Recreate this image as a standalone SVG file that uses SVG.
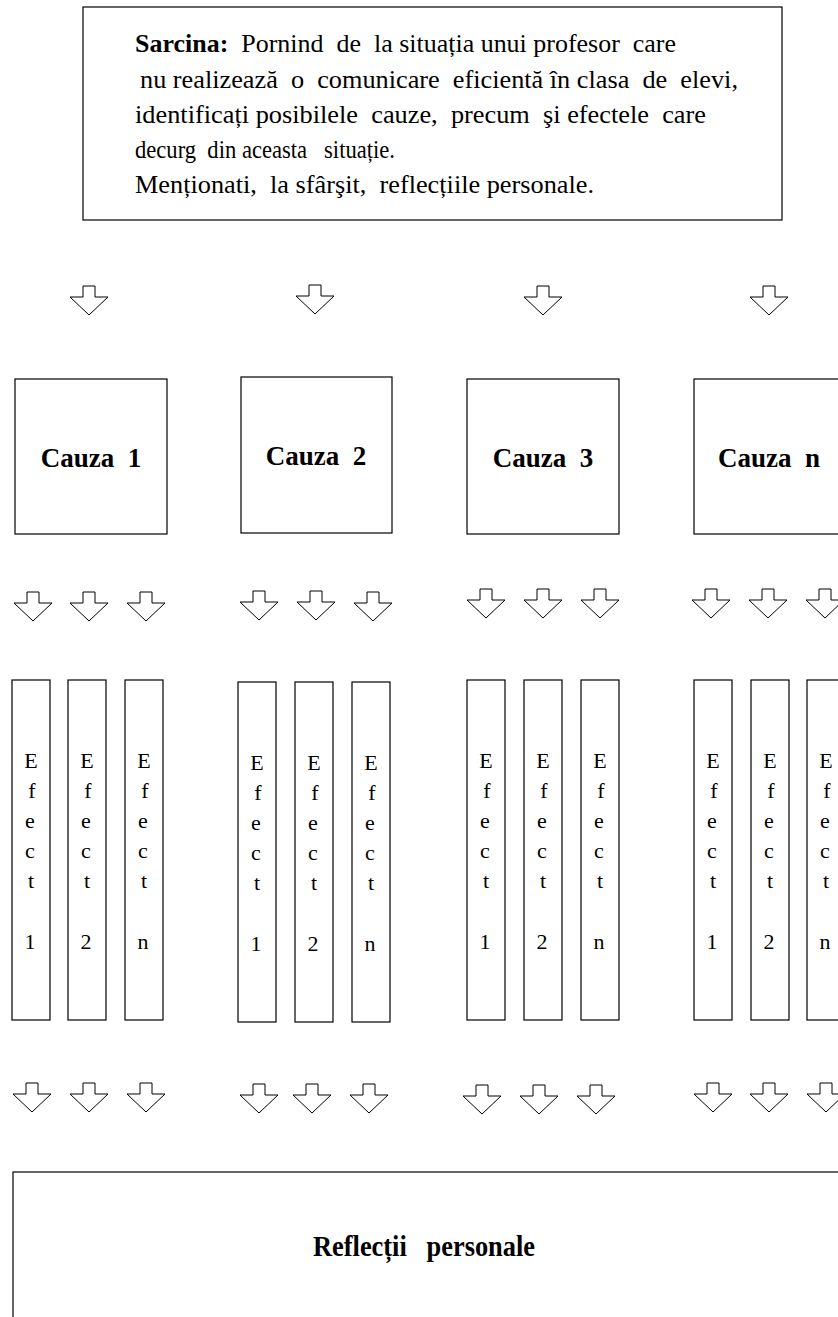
<svg xmlns="http://www.w3.org/2000/svg" xmlns:xlink="http://www.w3.org/1999/xlink" width="838" height="1317" viewBox="0 0 838 1317">
<style>
  .box { fill: #fff; stroke: #000; stroke-width: 1.2; }
  .arr { fill: #fff; stroke: #000; stroke-width: 1; stroke-linejoin: miter; }
  text { font-family: 'Liberation Serif', 'Times New Roman', Times, 'DejaVu Serif', serif; fill: #000; }
  .task { font-size: 26px; }
  .b { font-weight: bold; }
  .cause { font-size: 27px; font-weight: bold; text-anchor: middle; }
  .refl { font-size: 29px; font-weight: bold; }
  .eff { font-size: 22px; text-anchor: middle; }
</style>
<defs>
  <path id="arrow" class="arr" d="M -6,-29 H 6 V -18 H 19 L 0,0 L -19,-18 H -6 Z"/>
</defs>
<rect width="838" height="1317" fill="#fff"/>

<g id="task">
  <rect class="box" x="83" y="7" width="699" height="213"/>
  <text class="task" x="135" y="52" textLength="541" lengthAdjust="spacingAndGlyphs" xml:space="preserve"><tspan class="b">Sarcina:</tspan>  Pornind  de  la situația unui profesor  care</text>
  <text class="task" x="140" y="88" textLength="598" lengthAdjust="spacingAndGlyphs" xml:space="preserve">nu realizează  o  comunicare  eficientă în clasa  de  elevi,</text>
  <text class="task" x="135" y="123" textLength="571" lengthAdjust="spacingAndGlyphs" xml:space="preserve">identificați posibilele  cauze,  precum  şi efectele  care</text>
  <text class="task" x="135" y="158" textLength="260" lengthAdjust="spacingAndGlyphs" xml:space="preserve">decurg  din aceasta   situație.</text>
  <text class="task" x="135" y="193" textLength="459" lengthAdjust="spacingAndGlyphs" xml:space="preserve">Menționati,  la sfârşit,  reflecțiile personale.</text>
</g>

<g id="cauza1">
  <rect class="box" x="15" y="379" width="152" height="155"/>
  <text class="cause" x="91" y="467" xml:space="preserve">Cauza  1</text>
</g>
<g id="cauza2">
  <rect class="box" x="241" y="377" width="151" height="156"/>
  <text class="cause" x="316" y="465" xml:space="preserve">Cauza  2</text>
</g>
<g id="cauza3">
  <rect class="box" x="467" y="379" width="152" height="155"/>
  <text class="cause" x="543" y="467" xml:space="preserve">Cauza  3</text>
</g>
<g id="cauzan">
  <rect class="box" x="694" y="379" width="170" height="155"/>
  <text class="cause" x="769" y="467" xml:space="preserve">Cauza  n</text>
</g>

<g id="g1e1"><rect class="box" x="12" y="680" width="38" height="340"/>
  <text class="eff"><tspan x="31" y="768">E</tspan><tspan x="32" y="798">f</tspan><tspan x="30" y="828">e</tspan><tspan x="30" y="858">c</tspan><tspan x="31" y="888">t</tspan><tspan x="30" y="949">1</tspan></text></g>
<g id="g1e2"><rect class="box" x="68" y="680" width="38" height="340"/>
  <text class="eff"><tspan x="87" y="768">E</tspan><tspan x="88" y="798">f</tspan><tspan x="86" y="828">e</tspan><tspan x="86" y="858">c</tspan><tspan x="87" y="888">t</tspan><tspan x="86" y="949">2</tspan></text></g>
<g id="g1en"><rect class="box" x="125" y="680" width="38" height="340"/>
  <text class="eff"><tspan x="144" y="768">E</tspan><tspan x="145" y="798">f</tspan><tspan x="143" y="828">e</tspan><tspan x="143" y="858">c</tspan><tspan x="144" y="888">t</tspan><tspan x="143" y="949">n</tspan></text></g>

<g id="g2e1"><rect class="box" x="238" y="682" width="38" height="340"/>
  <text class="eff"><tspan x="257" y="770">E</tspan><tspan x="258" y="800">f</tspan><tspan x="256" y="830">e</tspan><tspan x="256" y="860">c</tspan><tspan x="257" y="890">t</tspan><tspan x="256" y="951">1</tspan></text></g>
<g id="g2e2"><rect class="box" x="295" y="682" width="38" height="340"/>
  <text class="eff"><tspan x="314" y="770">E</tspan><tspan x="315" y="800">f</tspan><tspan x="313" y="830">e</tspan><tspan x="313" y="860">c</tspan><tspan x="314" y="890">t</tspan><tspan x="313" y="951">2</tspan></text></g>
<g id="g2en"><rect class="box" x="352" y="682" width="38" height="340"/>
  <text class="eff"><tspan x="371" y="770">E</tspan><tspan x="372" y="800">f</tspan><tspan x="370" y="830">e</tspan><tspan x="370" y="860">c</tspan><tspan x="371" y="890">t</tspan><tspan x="370" y="951">n</tspan></text></g>

<g id="g3e1"><rect class="box" x="467" y="680" width="38" height="340"/>
  <text class="eff"><tspan x="486" y="768">E</tspan><tspan x="487" y="798">f</tspan><tspan x="485" y="828">e</tspan><tspan x="485" y="858">c</tspan><tspan x="486" y="888">t</tspan><tspan x="485" y="949">1</tspan></text></g>
<g id="g3e2"><rect class="box" x="524" y="680" width="38" height="340"/>
  <text class="eff"><tspan x="543" y="768">E</tspan><tspan x="544" y="798">f</tspan><tspan x="542" y="828">e</tspan><tspan x="542" y="858">c</tspan><tspan x="543" y="888">t</tspan><tspan x="542" y="949">2</tspan></text></g>
<g id="g3en"><rect class="box" x="581" y="680" width="38" height="340"/>
  <text class="eff"><tspan x="600" y="768">E</tspan><tspan x="601" y="798">f</tspan><tspan x="599" y="828">e</tspan><tspan x="599" y="858">c</tspan><tspan x="600" y="888">t</tspan><tspan x="599" y="949">n</tspan></text></g>

<g id="g4e1"><rect class="box" x="694" y="680" width="38" height="340"/>
  <text class="eff"><tspan x="713" y="768">E</tspan><tspan x="714" y="798">f</tspan><tspan x="712" y="828">e</tspan><tspan x="712" y="858">c</tspan><tspan x="713" y="888">t</tspan><tspan x="712" y="949">1</tspan></text></g>
<g id="g4e2"><rect class="box" x="751" y="680" width="38" height="340"/>
  <text class="eff"><tspan x="770" y="768">E</tspan><tspan x="771" y="798">f</tspan><tspan x="769" y="828">e</tspan><tspan x="769" y="858">c</tspan><tspan x="770" y="888">t</tspan><tspan x="769" y="949">2</tspan></text></g>
<g id="g4en"><rect class="box" x="807" y="680" width="38" height="340"/>
  <text class="eff"><tspan x="826" y="768">E</tspan><tspan x="827" y="798">f</tspan><tspan x="825" y="828">e</tspan><tspan x="825" y="858">c</tspan><tspan x="826" y="888">t</tspan><tspan x="825" y="949">n</tspan></text></g>

<g id="reflectii">
  <rect class="box" x="13" y="1172" width="900" height="200"/>
  <text class="refl" x="313" y="1256" textLength="222" lengthAdjust="spacingAndGlyphs" xml:space="preserve">Reflecții   personale</text>
</g>

<g id="connectors">
  <use xlink:href="#arrow" transform="translate(89,315)"/>
  <use xlink:href="#arrow" transform="translate(315,314)"/>
  <use xlink:href="#arrow" transform="translate(543,315)"/>
  <use xlink:href="#arrow" transform="translate(769,315)"/>

  <use xlink:href="#arrow" transform="translate(33,621)"/>
  <use xlink:href="#arrow" transform="translate(89,621)"/>
  <use xlink:href="#arrow" transform="translate(146,621)"/>
  <use xlink:href="#arrow" transform="translate(259,620)"/>
  <use xlink:href="#arrow" transform="translate(316,620)"/>
  <use xlink:href="#arrow" transform="translate(373,621)"/>
  <use xlink:href="#arrow" transform="translate(486,618)"/>
  <use xlink:href="#arrow" transform="translate(543,618)"/>
  <use xlink:href="#arrow" transform="translate(600,618)"/>
  <use xlink:href="#arrow" transform="translate(711,618)"/>
  <use xlink:href="#arrow" transform="translate(768,618)"/>
  <use xlink:href="#arrow" transform="translate(825,618)"/>

  <use xlink:href="#arrow" transform="translate(32,1112)"/>
  <use xlink:href="#arrow" transform="translate(89,1112)"/>
  <use xlink:href="#arrow" transform="translate(146,1112)"/>
  <use xlink:href="#arrow" transform="translate(259,1113)"/>
  <use xlink:href="#arrow" transform="translate(312,1113)"/>
  <use xlink:href="#arrow" transform="translate(369,1113)"/>
  <use xlink:href="#arrow" transform="translate(482,1114)"/>
  <use xlink:href="#arrow" transform="translate(539,1114)"/>
  <use xlink:href="#arrow" transform="translate(596,1114)"/>
  <use xlink:href="#arrow" transform="translate(713,1112)"/>
  <use xlink:href="#arrow" transform="translate(769,1112)"/>
  <use xlink:href="#arrow" transform="translate(826,1112)"/>
</g>
</svg>
